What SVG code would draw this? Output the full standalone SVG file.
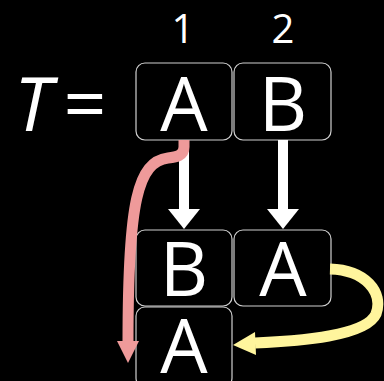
<svg xmlns="http://www.w3.org/2000/svg" width="384" height="381" viewBox="0 0 384 381">
<style>
.box{fill:#000;stroke:#d0d0d0;stroke-width:1.2}
.big{font-family:"Open Sans","Noto Sans",sans-serif;font-size:75px;fill:#fff;text-anchor:middle}
.num{font-family:"Open Sans","Noto Sans",sans-serif;font-size:40px;fill:#fff;text-anchor:middle}
</style>
<rect width="384" height="381" fill="#000"/>
<g id="labels">
<text class="num" x="183" y="43">1</text>
<text class="num" x="283" y="43">2</text>
<text class="big" x="33" y="131" font-style="italic">T</text>
<text class="big" x="85" y="131">=</text>
</g>
<g id="top1"><rect class="box" x="136" y="63" width="96" height="77" rx="9"/><text class="big" x="184" y="131">A</text></g>
<g id="top2"><rect class="box" x="234" y="63" width="97" height="77" rx="9"/><text class="big" x="283" y="131">B</text></g>
<g id="mid1"><rect class="box" x="136" y="230" width="96" height="76" rx="9"/><text class="big" x="184" y="296">B</text></g>
<g id="mid2"><rect class="box" x="234" y="230" width="97" height="76" rx="9"/><text class="big" x="283" y="296">A</text></g>
<g id="bot1"><rect class="box" x="136" y="307" width="96" height="80" rx="9"/><text class="big" x="184" y="373">A</text></g>
<g id="connectors">
<rect x="179" y="140" width="10" height="70" fill="#fff"/>
<polygon points="168,209 200,209 184,229" fill="#fff"/>
<rect x="278" y="140" width="10" height="70" fill="#fff"/>
<polygon points="267,209 299,209 283,229" fill="#fff"/>
<path d="M184,140 L184,147 C184,156 176,157 168,158 C138,162 128,200 128,342" fill="none" stroke="#ef9a9a" stroke-width="11"/>
<polygon points="117,341 139,341 128,363" fill="#ef9a9a"/>
<path d="M330,269 C365,270 384,292 376,314 C366,336 300,341 255,343" fill="none" stroke="#fff59d" stroke-width="11"/>
<polygon points="255,332 256,355 233,345" fill="#fff59d"/>
</g>
</svg>
